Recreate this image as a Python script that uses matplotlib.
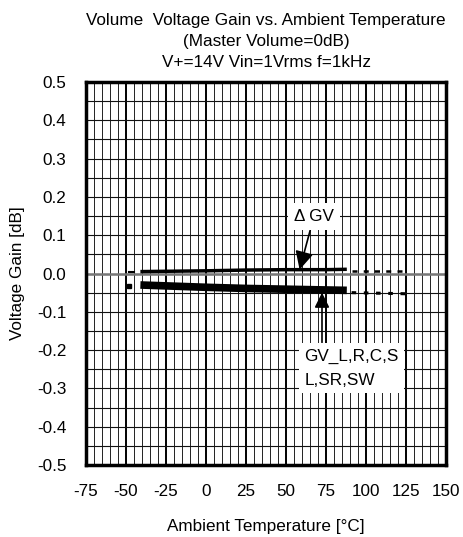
#!/usr/bin/env python3
"""Volume voltage gain vs. ambient temperature (datasheet-style grid chart)."""
import matplotlib
matplotlib.use("Agg")
import matplotlib.pyplot as plt
import numpy as np

plt.rcParams["font.family"] = ["Liberation Sans", "DejaVu Sans"]
plt.rcParams["axes.unicode_minus"] = False
FS = 12.3

# measured range
temp = [-41, 0, 25, 50, 75, 88]
dgv = [0.005, 0.007, 0.009, 0.010, 0.010, 0.011]
gv = [-0.030, -0.036, -0.039, -0.041, -0.043, -0.044]
# dotted extrapolation beyond the measured range
temp_ext = [91, 126]
dgv_ext = [0.007, 0.007]
gv_ext = [-0.050, -0.053]
temp_left = [-48, -45]
dgv_left = [0.004, 0.004]
gv_left_t = [-48]
gv_left = [-0.032]

xticks = [-75, -50, -25, 0, 25, 50, 75, 100, 125, 150]
yticks = [-0.5, -0.4, -0.3, -0.2, -0.1, 0.0, 0.1, 0.2, 0.3, 0.4, 0.5]

fig = plt.figure(figsize=(4.64, 5.37), dpi=100)
ax = fig.add_axes([86 / 464, 1 - 465 / 537, 360 / 464, 383 / 537])

ax.set_xlim(-75, 150)
ax.set_ylim(-0.5, 0.5)

# grid: minor verticals every 5 C, majors every 25 C, horizontals every 0.05
for t in np.arange(-75, 151, 5):
    major = t % 25 == 0
    ax.axvline(t, color="black" if major else "#222222",
               lw=1.4 if major else 0.7, zorder=1)
for v in np.arange(-0.5, 0.501, 0.05):
    ax.axhline(v, color="#111111", lw=0.8, zorder=1)
ax.axhline(0, color="#777777", lw=1.8, zorder=1)

ax.plot(temp, dgv, color="black", lw=2.5, solid_capstyle="butt", zorder=3)
ax.plot(temp, gv, color="black", lw=5.5, solid_capstyle="butt", zorder=3)
ax.plot(temp_ext, dgv_ext, color="black", lw=1.8, ls=(0, (2, 2.5)), zorder=3)
ax.plot(temp_ext, gv_ext, color="black", lw=2.2, ls=(0, (1.5, 2.5)), zorder=3)
ax.plot(temp_left, dgv_left, color="black", lw=1.5, zorder=3)
ax.plot(gv_left_t, gv_left, "s", color="black", ms=3.5, zorder=3)

arrow = dict(arrowstyle="-|>,head_length=0.9,head_width=0.45",
             color="black", lw=1.2, shrinkA=0, shrinkB=0)
ax.annotate("\u0394 GV", xy=(58.5, 0.010), xytext=(67.5, 0.15),
            ha="center", va="center", fontsize=FS, zorder=5,
            bbox=dict(boxstyle="square,pad=0.35", fc="white", ec="none"),
            arrowprops=arrow)
ax.annotate("GV_L,R,C,S\nL,SR,SW", xy=(72.5, -0.047), xytext=(61.5, -0.247),
            ha="left", va="center", fontsize=FS, linespacing=1.75,
            bbox=dict(boxstyle="square,pad=0.3", fc="white", ec="none"),
            zorder=5)
ax.annotate("", xy=(72.5, -0.050), xytext=(72.5, -0.18), zorder=4,
            arrowprops=arrow)

ax.set_xticks(xticks)
ax.set_yticks(yticks)
ax.set_yticklabels([f"{v:.1f}" for v in yticks])
ax.tick_params(length=0, labelsize=FS, pad=14)
for s in ax.spines.values():
    s.set_linewidth(2.5)
    s.set_zorder(6)

ax.set_xlabel("Ambient Temperature [\u00b0C]", fontsize=FS, labelpad=14)
ax.set_ylabel("Voltage Gain [dB]", fontsize=FS, labelpad=9)
ax.set_title("Volume  Voltage Gain vs. Ambient Temperature\n"
             "(Master Volume=0dB)\nV+=14V Vin=1Vrms f=1kHz",
             fontsize=FS, linespacing=1.48, pad=11)

fig.savefig("out.png", dpi=100)
